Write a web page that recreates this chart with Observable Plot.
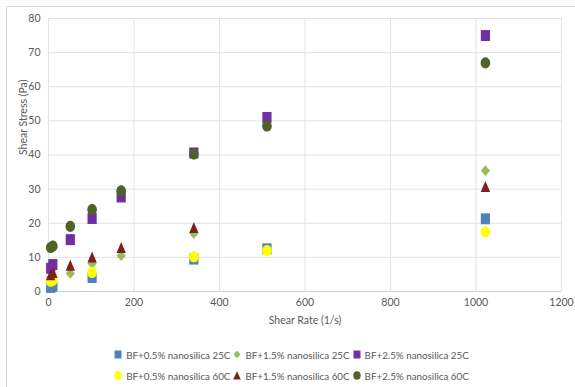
<!DOCTYPE html>
<html>
<head>
<meta charset="utf-8">
<script src="https://cdn.jsdelivr.net/npm/d3@7"></script>
<script src="https://cdn.jsdelivr.net/npm/@observablehq/plot@0.6"></script>
<style>
  html, body { margin: 0; padding: 0; background: #fff; }
  #wrap { position: relative; width: 575px; height: 387px; overflow: hidden; font-family: Lato, "Open Sans", sans-serif; }
  #frame { position: absolute; left: 6px; top: 6px; width: 580px; height: 400px; border-left: 1px solid #d9d9d9; border-top: 1px solid #d9d9d9; pointer-events: none; }
  #chart svg { display: block; }
  #legend { box-sizing: border-box; width: 575px; padding-left: 8px; padding-top: 4px; }
  .row { display: flex; justify-content: center; gap: 3px; height: 21px; }
  .item { display: flex; align-items: center; font-size: 9.8px; color: #595959; white-space: nowrap; }
  .item svg { margin-right: 4px; flex: none; }
</style>
</head>
<body>
<div id="wrap">
  <div id="frame"></div>
  <div id="chart"></div>
  <div id="legend"></div>
</div>
<script>
// Shear rates of the viscometer readings (1/s)
const shearRate = [5.1, 10.2, 51, 102, 170, 340, 511, 1022];

// Shear stress (Pa) per fluid; null where no reading was taken
const bf05_25 = [1.2, 1.5, null, 4.1, null, 9.5, 12.5, 21.3];
const bf15_25 = [4.2, 4.6, 5.3, 8.2, 10.5, 17.0, null, 35.4];
const bf25_25 = [6.8, 7.9, 15.2, 21.4, 27.7, 40.6, 51.0, 75.0];
const bf05_60 = [3.0, 3.3, null, 5.6, null, 10.2, 12.0, 17.5];
const bf15_60 = [4.8, 5.5, 7.6, 10.0, 12.8, 18.7, null, 30.7];
const bf25_60 = [12.9, 13.3, 19.1, 24.0, 29.5, 40.3, 48.5, 67.0];

const seriesNames = [
  "BF+0.5% nanosilica 25C", "BF+1.5% nanosilica 25C", "BF+2.5% nanosilica 25C",
  "BF+0.5% nanosilica 60C", "BF+1.5% nanosilica 60C", "BF+2.5% nanosilica 60C"
];
const seriesValues = [bf05_25, bf15_25, bf25_25, bf05_60, bf15_60, bf25_60];
const seriesColors = ["#4f81bd", "#9bbb59", "#7030a0", "#ffff00", "#7b1f1f", "#4f6228"];
const seriesShapes = ["square", "diamond", "square", "circle", "triangle", "circle"];

const xTicks = [0, 200, 400, 600, 800, 1000, 1200];
const yTicks = [0, 10, 20, 30, 40, 50, 60, 70, 80];

// Marker outlines (slightly taller than wide)
function ellipsePath(c, rx, ry) {
  const k = 0.5523;
  c.moveTo(rx, 0);
  c.bezierCurveTo(rx, ry * k, rx * k, ry, 0, ry);
  c.bezierCurveTo(-rx * k, ry, -rx, ry * k, -rx, 0);
  c.bezierCurveTo(-rx, -ry * k, -rx * k, -ry, 0, -ry);
  c.bezierCurveTo(rx * k, -ry, rx, -ry * k, rx, 0);
  c.closePath();
}
const shapes = {
  square: {draw(c) { c.rect(-4.6, -5.5, 9.2, 11); }},
  circle: {draw(c) { ellipsePath(c, 4.8, 5.6); }},
  diamond: {draw(c) { c.moveTo(0, -5.4); c.lineTo(4.6, 0); c.lineTo(0, 5.4); c.lineTo(-4.6, 0); c.closePath(); }},
  triangle: {draw(c) { c.moveTo(0, -5.8); c.lineTo(4.7, 5.2); c.lineTo(-4.7, 5.2); c.closePath(); }}
};

const rows = seriesNames.map((name, i) =>
  shearRate.map((x, j) => ({x, y: seriesValues[i][j], series: name})).filter(d => d.y != null)
);

const plain = d => String(d);

const chart = Plot.plot({
  width: 575,
  height: 340,
  marginLeft: 48,
  marginRight: 14,
  marginTop: 18,
  marginBottom: 49,
  style: {fontFamily: "Lato, 'Open Sans', sans-serif", fontSize: "10px", color: "#595959", background: "#fff"},
  x: {domain: [0, 1200]},
  y: {domain: [0, 80]},
  marks: [
    Plot.gridX(xTicks, {stroke: "#e3e3e3", strokeOpacity: 1}),
    Plot.gridY(yTicks, {stroke: "#e3e3e3", strokeOpacity: 1}),
    Plot.ruleY([0], {stroke: "#d0d0d0"}),
    Plot.axisX(xTicks, {tickSize: 0, tickPadding: 7, tickFormat: plain, label: null, fill: "#595959", fontSize: 10.5}),
    Plot.axisY(yTicks, {tickSize: 0, tickPadding: 8, tickFormat: plain, label: null, fill: "#595959", fontSize: 10.5}),
    ...rows.map((data, i) => Plot.dot(data, {
      x: "x", y: "y", r: 5,
      symbol: shapes[seriesShapes[i]],
      fill: seriesColors[i], stroke: "none"
    })),
    Plot.text(["Shear Rate (1/s)"], {frameAnchor: "bottom", dy: 32, fill: "#595959", fontSize: 10.5}),
    Plot.text(["Shear Stress (Pa)"], {frameAnchor: "left", dx: -25, rotate: -90, fill: "#595959", fontSize: 10.5})
  ]
});
document.getElementById("chart").append(chart);

// Legend below the plot: two rows of three entries
const legendShapes = {
  square: '<rect x="0.5" y="0.5" width="7" height="8" />',
  circle: '<ellipse cx="4" cy="4.5" rx="3.7" ry="4.2" />',
  diamond: '<path d="M4,0.5L7.5,4.5L4,8.5L0.5,4.5Z" />',
  triangle: '<path d="M4,0.3L7.8,8.5L0.2,8.5Z" />'
};
const legend = document.getElementById("legend");
[[0, 1, 2], [3, 4, 5]].forEach(idx => {
  const row = document.createElement("div");
  row.className = "row";
  idx.forEach(i => {
    const item = document.createElement("div");
    item.className = "item";
    item.innerHTML = `<svg width="8" height="9" viewBox="0 0 8 9"><g fill="${seriesColors[i]}">${legendShapes[seriesShapes[i]]}</g></svg><span>${seriesNames[i]}</span>`;
    row.append(item);
  });
  legend.append(row);
});
</script>
</body>
</html>
